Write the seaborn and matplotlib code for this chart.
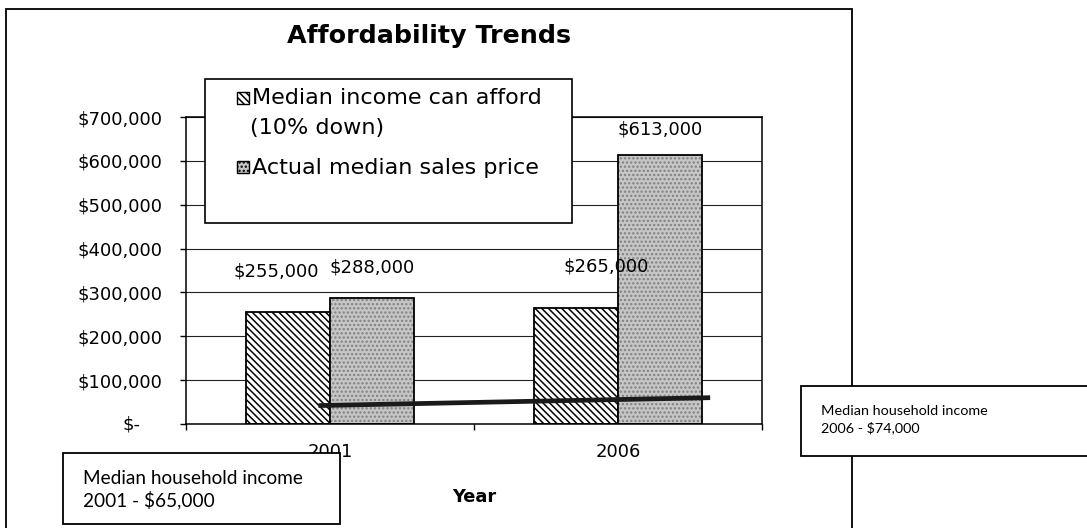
import matplotlib
matplotlib.use("Agg")
import matplotlib.pyplot as plt
import seaborn as sns
import pandas as pd
from matplotlib.patches import Rectangle

# ---------------- data ----------------
years = ["2001", "2006"]
afford_label = "Median income can afford\n(10% down)"
actual_label = "Actual median sales price"
afford_values = [255000, 265000]
actual_values = [288000, 613000]
afford_text = ["$255,000", "$265,000"]
actual_text = ["$288,000", "$613,000"]
income_line_pos = [-0.04, 1.32]          # category positions of the drawn income line
income_line_vals = [42000, 60000]
yticks = [0, 100000, 200000, 300000, 400000, 500000, 600000, 700000]
ytick_labels = ["", "$100,000", "$200,000", "$300,000", "$400,000",
                "$500,000", "$600,000", "$700,000"]
zero_label = "$-"
title = "Affordability Trends"
xlabel = "Year"
note_2001 = "Median household income\n2001 - $65,000"
note_2006 = "Median household income\n2006 - $74,000"

# ---------------- style ----------------
sns.set_style("white")
plt.rcParams["font.family"] = ["DejaVu Sans"]
plt.rcParams["hatch.linewidth"] = 1.1
for k in ["text.color", "axes.labelcolor", "xtick.color", "ytick.color",
          "xtick.labelcolor", "ytick.labelcolor"]:
    plt.rcParams[k] = "black"

W, H = 1087, 528
fig = plt.figure(figsize=(W / 100, H / 100), dpi=100)

def fx(px):
    return px / W

def fy(py):
    return 1 - py / H

ax = fig.add_axes([fx(186), 104 / H, 576 / W, 307 / H])

df = pd.DataFrame({
    "Year": years * 2,
    "Value": afford_values + actual_values,
    "Series": [afford_label] * len(years) + [actual_label] * len(years),
})
gray = "#c6c6c6"
sns.barplot(data=df, x="Year", y="Value", hue="Series",
            hue_order=[afford_label, actual_label],
            palette={afford_label: "white", actual_label: gray},
            saturation=1, width=0.58, legend=False, ax=ax,
            edgecolor="black", linewidth=1.3, zorder=2)

afford_bars, actual_bars = ax.containers[0], ax.containers[1]
for p in afford_bars:
    p.set_hatch("\\\\\\\\\\")
    p.set_edgecolor("black")
for p in actual_bars:
    p.set_hatch("....")
    p.set_edgecolor("#808080")
    p.set_linewidth(0)
    ax.add_patch(Rectangle(p.get_xy(), p.get_width(), p.get_height(),
                           fill=False, edgecolor="black", lw=1.3, zorder=3))

# income line
ax.plot(income_line_pos, income_line_vals, color="#1a1a1a", lw=3.4,
        solid_capstyle="butt", zorder=6)

# bar labels
afford_offsets = [(-12, 41), (30, 41)]
actual_offsets = [(0, 30), (0, 26)]
for bars, texts, offs in [(afford_bars, afford_text, afford_offsets),
                          (actual_bars, actual_text, actual_offsets)]:
    for p, t, o in zip(bars, texts, offs):
        ax.annotate(t, xy=(p.get_x() + p.get_width() / 2, p.get_height()),
                    xytext=o, textcoords="offset pixels",
                    ha="center", va="center", fontsize=13, color="black",
                    zorder=7)

# axes
ax.set_xlim(-0.5, 1.5)
ax.set_ylim(0, 700000)
ax.set_yticks(yticks)
ax.set_yticklabels(ytick_labels)
ax.text(-(186 - 140) / 576, 0, zero_label, transform=ax.get_yaxis_transform(),
        ha="right", va="center", fontsize=13, color="black")
ax.set_axisbelow(True)
ax.yaxis.grid(True, color="#222222", lw=0.8)
ax.xaxis.grid(False)
for s in ax.spines.values():
    s.set_visible(True)
    s.set_color("black")
    s.set_linewidth(1.1)
ax.tick_params(axis="y", direction="out", length=4.3, width=1, pad=12.5,
               labelsize=13, colors="black", left=True)
ax.set_xticks([-0.5, 0.5, 1.5], minor=True)
ax.tick_params(axis="x", which="major", length=0, pad=13.5, labelsize=13,
               labelcolor="black")
ax.tick_params(axis="x", which="minor", direction="out", length=4.3,
               width=1, bottom=True, color="black")
ax.set_xlabel(xlabel, fontsize=12.8, fontweight="bold", color="black")
ax.xaxis.label.set_va("center")
ax.xaxis.set_label_coords(0.5, -(497 - 424) / 307)
ax.set_ylabel("")

# outer chart border
fig.patches.append(Rectangle((fx(6), -0.02), fx(852) - fx(6), fy(9) + 0.02,
                             transform=fig.transFigure, fill=False,
                             edgecolor="black", lw=1.3, zorder=1))

# title
fig.text(fx(429), fy(36), title, ha="center", va="center",
         fontsize=18.3, fontweight="bold", color="black", zorder=4)

# legend (drawn as a box with patches and labels)
fig.patches.append(Rectangle((fx(205), fy(223)), fx(572) - fx(205),
                             fy(79) - fy(223), transform=fig.transFigure,
                             facecolor="white", edgecolor="black", lw=1.2,
                             zorder=2))
fig.patches.append(Rectangle((fx(237), fy(104)), fx(249) - fx(237),
                             fy(92) - fy(104), transform=fig.transFigure,
                             facecolor="white", edgecolor="black", lw=1.0,
                             hatch="\\\\\\\\\\", zorder=3))
fig.patches.append(Rectangle((fx(237), fy(173)), fx(249) - fx(237),
                             fy(161) - fy(173), transform=fig.transFigure,
                             facecolor=gray, edgecolor="black", lw=1.0,
                             hatch="....", zorder=3))
leg_lines = afford_label.split("\n")
fig.text(fx(252), fy(98), leg_lines[0], ha="left", va="center",
         fontsize=16, color="black", zorder=4)
fig.text(fx(250), fy(128), leg_lines[1], ha="left", va="center",
         fontsize=16, color="black", zorder=4)
fig.text(fx(252), fy(168), actual_label, ha="left", va="center",
         fontsize=16, color="black", zorder=4)

# note boxes
fig.patches.append(Rectangle((fx(63), fy(524)), fx(340) - fx(63),
                             fy(453) - fy(524), transform=fig.transFigure,
                             facecolor="white", edgecolor="black", lw=1.3,
                             zorder=5))
fig.text(fx(83), fy(490), note_2001, ha="left", va="center",
         fontsize=13.7, family=["Lato", "DejaVu Sans"], linespacing=1.25,
         color="black", zorder=6)
fig.patches.append(Rectangle((fx(801), fy(456)), fx(1100) - fx(801),
                             fy(386) - fy(456), transform=fig.transFigure,
                             facecolor="white", edgecolor="black", lw=1.3,
                             zorder=5))
fig.text(fx(821), fy(419.5), note_2006, ha="left", va="center",
         fontsize=10.4, family=["Lato", "DejaVu Sans"], linespacing=1.35,
         color="black", zorder=6)

fig.savefig("out.png", dpi=100)
